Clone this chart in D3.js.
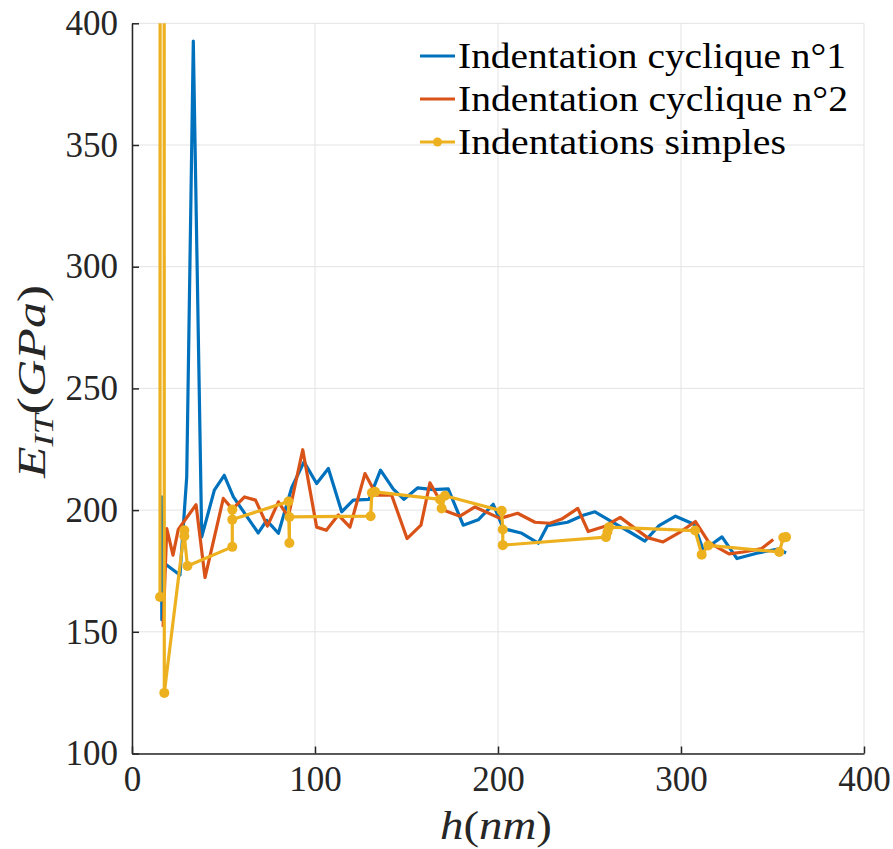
<!DOCTYPE html>
<html><head><meta charset="utf-8">
<script src="https://cdn.jsdelivr.net/npm/d3@7"></script>
<style>body{margin:0;background:#fff}svg{display:block}</style>
</head><body>
<script>
// ---- data ----
const xTicks = [0, 100, 200, 300, 400];
const yTicks = [100, 150, 200, 250, 300, 350, 400];
const seriesNames = ["Indentation cyclique n°1", "Indentation cyclique n°2", "Indentations simples"];
const cyc1H = [16.0,16.3,16.2,26.2,29.9,33.5,38.1,45.0,50.4,55.4,69.0,73.6,80.0,87.3,94.0,100.9,107.3,114.6,120.9,129.5,135.8,142.8,148.6,156.0,164.5,172.8,181.0,189.2,197.4,202.9,212.6,222.0,227.0,238.0,246.6,253.0,262.8,272.0,280.3,288.0,297.0,307.1,312.2,322.4,330.6,341.4,353.0,357.4];
const cyc1E = [206,155,179,173.3,213.6,392.7,189,208.2,214.3,205.4,190.6,195.8,190.5,209.3,219.8,210.9,217.1,199.3,204.1,204.4,216.4,208.6,204.4,209.1,208.4,208.7,193.8,196,202.4,192.4,190.6,186.4,193.6,195,197.9,199.3,195,191,187.3,193.6,197.5,194.2,183.5,189,180.1,182.3,184,182.4];
const cyc2H = [17.0,19.0,22.4,25.3,35.0,39.9,49.9,54.9,61.5,67.5,74.0,80.0,85.4,93.3,100.9,106.2,112.7,119.1,127.3,133.7,141.9,150.3,157.9,162.8,171.5,179.2,187.4,201.1,210.7,220.2,228.4,234.8,243.6,249.3,258.5,266.8,281.7,290.2,299.5,307.9,315.3,326.2,334.0,344.1,350.4];
const cyc2E = [152,192.4,181.5,192.1,202.2,172.3,204.8,200.4,205.4,204.1,193.4,203.4,197.2,224.8,193,191.7,198,193,215,206.1,206.1,188.3,193.8,211.2,199.6,197.5,201.3,196.6,198.7,195,194.6,196.3,200.7,191.2,193.4,197,188.7,186.9,191,195.3,186.6,182,182.8,184.2,187.9];
const simpH = [15.3,16.5,17.65,28.6,28.6,30.3,54.8,54.8,54.8,85.5,86.0,86.0,130.4,131.1,132.8,168.3,169.2,171.0,202.0,202.6,202.6,259.0,259.8,260.7,307.7,311.3,314.9,353.7,355.9,357.4];
const simpE = [164.3,5000,124.9,191.7,189.3,177,184.9,200.2,196.1,203.5,186.5,197.2,197.5,207.1,207.5,204.4,200.7,205.9,199.7,192,185.6,188.9,191,193,191.6,181.7,185.5,182.8,188.7,188.9];

const colors = ["#0072BD", "#D95319", "#EDB120"];
const W = 893, H = 849;
const m = {left: 132, right: 864, top: 23.3, bottom: 753.5};
const font = '"Liberation Serif", "DejaVu Serif", serif';

const svg = d3.select("body").append("svg").attr("width", W).attr("height", H);
const x = d3.scaleLinear().domain([0, 400]).range([m.left, m.right]);
const y = d3.scaleLinear().domain([100, 400]).range([m.bottom, m.top]);

// grid
const g = svg.append("g");
g.selectAll("line.gx").data(xTicks).join("line")
  .attr("x1", d => x(d)).attr("x2", d => x(d)).attr("y1", m.top).attr("y2", m.bottom)
  .attr("stroke", "#e3e3e3").attr("stroke-width", 1);
g.selectAll("line.gy").data(yTicks).join("line")
  .attr("y1", d => y(d)).attr("y2", d => y(d)).attr("x1", m.left).attr("x2", m.right)
  .attr("stroke", "#e3e3e3").attr("stroke-width", 1);

// clip
svg.append("defs").append("clipPath").attr("id", "clip").append("rect")
  .attr("x", m.left).attr("y", m.top).attr("width", m.right - m.left).attr("height", m.bottom - m.top);
const plot = svg.append("g").attr("clip-path", "url(#clip)");

const line = d3.line().x(d => x(d[0])).y(d => y(d[1]));
const s1 = cyc1H.map((h, i) => [h, cyc1E[i]]);
const s2 = cyc2H.map((h, i) => [h, cyc2E[i]]);
const s3 = simpH.map((h, i) => [h, simpE[i]]);
[s1, s2, s3].forEach((s, i) => {
  plot.append("path").datum(s).attr("d", line).attr("fill", "none")
    .attr("stroke", colors[i]).attr("stroke-width", 3.2).attr("stroke-linejoin", "round");
});
plot.selectAll("circle.m").data(s3).join("circle")
  .attr("cx", d => x(d[0])).attr("cy", d => y(d[1])).attr("r", 5).attr("fill", colors[2]);

// axes
const ax = svg.append("g").attr("transform", `translate(0,${m.bottom})`)
  .call(d3.axisBottom(x).tickValues(xTicks).tickSizeInner(-7).tickSizeOuter(0).tickPadding(12));
const ay = svg.append("g").attr("transform", `translate(${m.left},0)`)
  .call(d3.axisLeft(y).tickValues(yTicks).tickSizeInner(-7).tickSizeOuter(0).tickPadding(14));
[ax, ay].forEach(a => {
  a.attr("font-family", font).attr("font-size", 35);
  a.select(".domain").attr("stroke", "#262626").attr("stroke-width", 1.5);
  a.selectAll(".tick line").attr("stroke", "#262626").attr("stroke-width", 1.5);
  a.selectAll("text").attr("fill", "#262626");
});
ax.selectAll("text").attr("dy", "0.72em");

// axis labels
const xl = svg.append("text").attr("x", 440).attr("y", 839)
  .attr("font-family", font).attr("font-size", 40).attr("fill", "#262626")
  .attr("textLength", 112).attr("lengthAdjust", "spacingAndGlyphs");
xl.append("tspan").attr("font-style", "italic").text("h");
xl.append("tspan").text("(");
xl.append("tspan").attr("font-style", "italic").text("nm");
xl.append("tspan").text(")");

const yl = svg.append("text").attr("transform", "translate(45,478) rotate(-90)")
  .attr("font-family", font).attr("font-size", 40).attr("fill", "#262626")
  .attr("textLength", 193).attr("lengthAdjust", "spacingAndGlyphs");
yl.append("tspan").attr("font-style", "italic").text("E");
yl.append("tspan").attr("font-style", "italic").attr("font-size", 28).attr("dy", 8).text("IT");
yl.append("tspan").attr("dy", -8).text("(");
yl.append("tspan").attr("font-style", "italic").text("GPa");
yl.append("tspan").text(")");

// legend
const legWidths = [388, 390, 328];
const leg = svg.append("g");
seriesNames.forEach((name, i) => {
  const cy = 56 + i * 43;
  leg.append("line").attr("x1", 420).attr("x2", 455).attr("y1", cy).attr("y2", cy)
    .attr("stroke", colors[i]).attr("stroke-width", 3.2);
  if (i === 2) leg.append("circle").attr("cx", 437.5).attr("cy", cy).attr("r", 4.5).attr("fill", colors[i]);
  leg.append("text").attr("x", 458).attr("y", cy + 12).attr("font-family", font).attr("font-size", 35)
    .attr("fill", "#000").attr("textLength", legWidths[i]).attr("lengthAdjust", "spacingAndGlyphs").text(name);
});
</script>
</body></html>
